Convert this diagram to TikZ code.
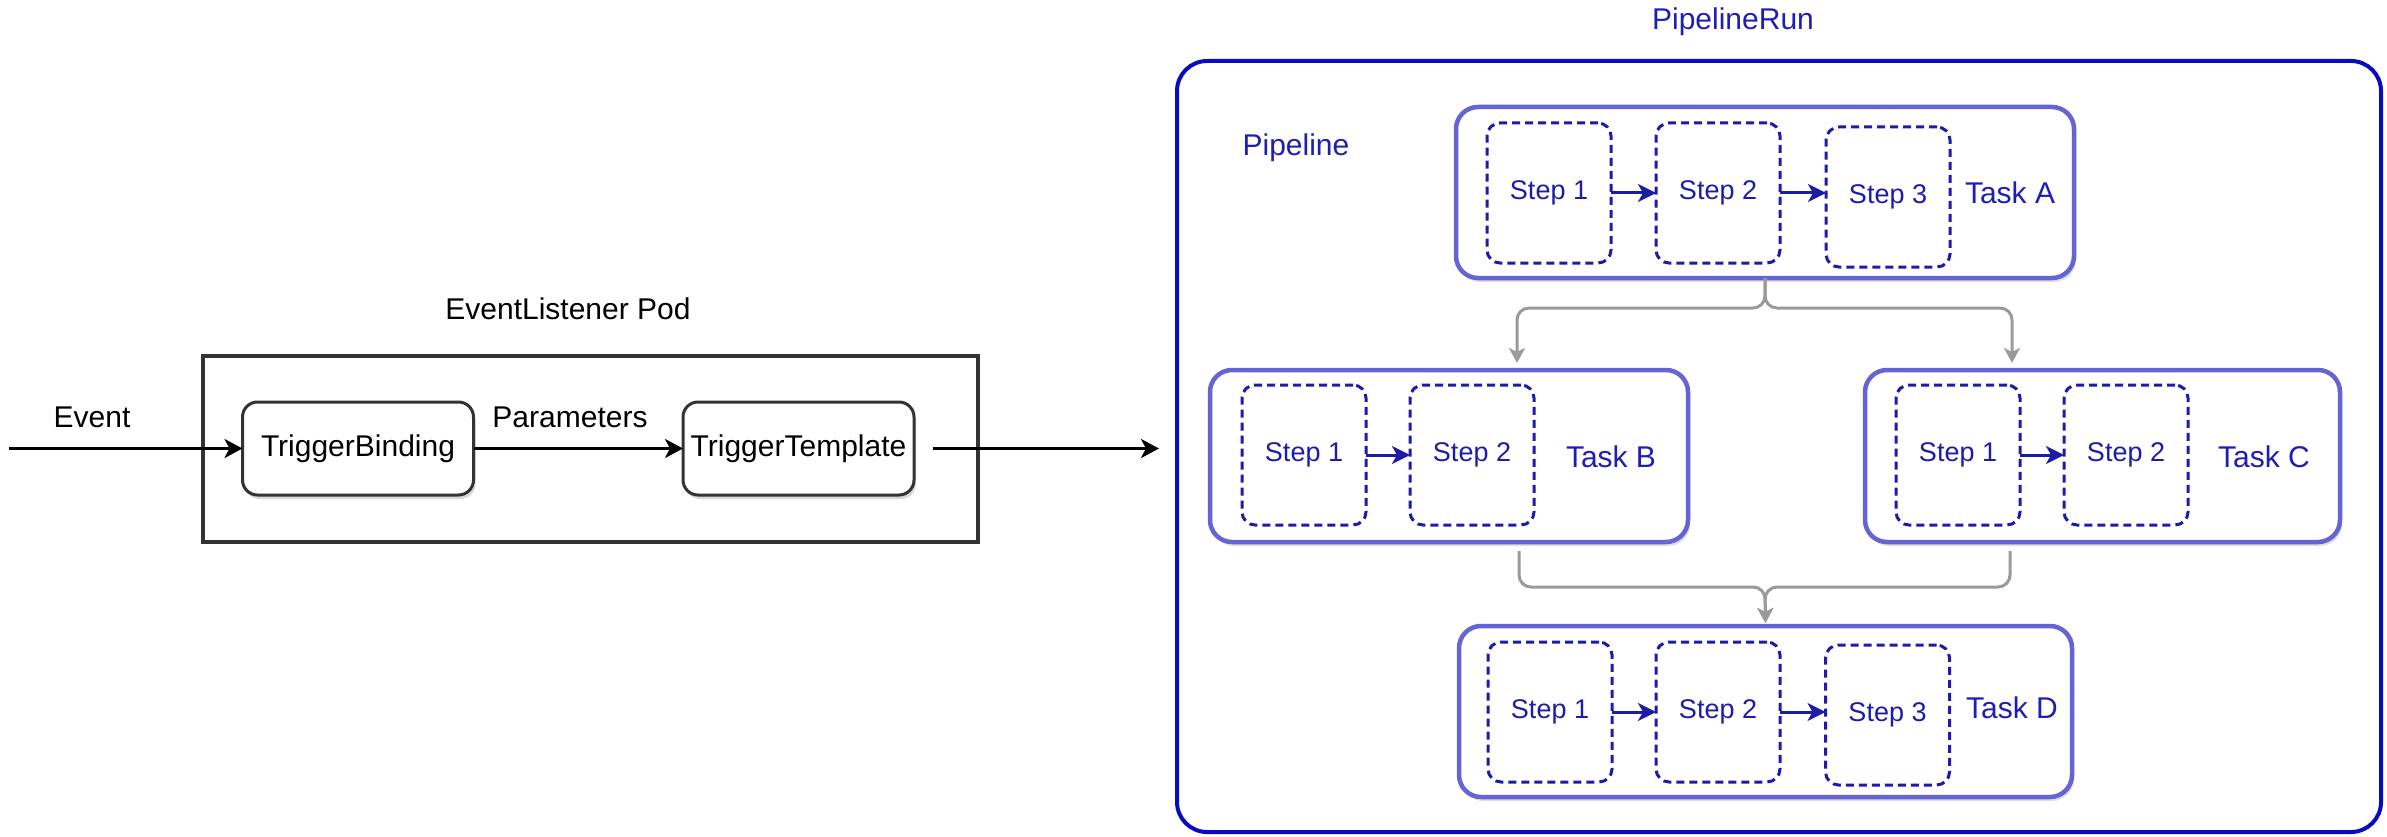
\documentclass[tikz,border=0pt]{standalone}
\usepackage{fontspec}
\setmainfont{Liberation Sans}
\usetikzlibrary{arrows.meta,shadows}

\definecolor{darkline}{HTML}{333333}
\definecolor{runblue}{HTML}{0A0AC0}
\definecolor{taskline}{HTML}{6464D4}
\definecolor{stepblue}{HTML}{1C1CA8}
\definecolor{textblue}{HTML}{1E1EB4}
\definecolor{flowgray}{HTML}{9A9A9A}

\tikzset{
  lbl/.style={font=\fontsize{30}{36}\selectfont, inner sep=0pt},
  bluelbl/.style={lbl, text=textblue},
  steplbl/.style={font=\fontsize{27}{32}\selectfont, text=stepblue},
  trigbox/.style={draw=darkline, line width=3pt, rounded corners=15pt, fill=white,
    minimum width=231pt, minimum height=93pt, inner sep=0pt, outer sep=0pt,
    lbl, drop shadow={shadow xshift=2pt, shadow yshift=-4pt, fill=black!30}},
  taskbox/.style={draw=taskline, line width=4.5pt, rounded corners=22pt, fill=white,
    minimum height=171pt, inner sep=0pt, outer sep=0pt,
    drop shadow={shadow xshift=2pt, shadow yshift=-4pt, fill=black!25}},
  stepbox/.style={draw=stepblue, line width=3pt, dash pattern=on 8pt off 5pt,
    rounded corners=13pt, minimum width=124pt, minimum height=140pt,
    inner sep=0pt, outer sep=0pt, steplbl},
  blackarrow/.style={draw=black, line width=3pt,
    -{Stealth[length=18pt, width=19pt, inset=5pt]}},
  bluearrow/.style={draw=stepblue, line width=3pt,
    -{Stealth[length=18pt, width=18pt, inset=5pt]}},
  grayarrow/.style={draw=flowgray, line width=3pt, rounded corners=12pt,
    -{Stealth[length=15pt, width=16pt, inset=4pt]}},
}

\begin{document}
\begin{tikzpicture}[x=1pt, y=-1pt]
\useasboundingbox (0,0) rectangle (2387,837);

% ---------------- EventListener pod ----------------
\node[lbl] (elpodlbl) at (568,309) {EventListener Pod};
\node[draw=darkline, line width=4pt, minimum width=775pt, minimum height=186pt,
      inner sep=0pt, outer sep=0pt] (elpod) at (590.5,449) {};
\node[trigbox] (tb) at (358,448.5) {TriggerBinding};
\node[trigbox] (tt) at (798.5,448.5) {TriggerTemplate};
\node[lbl] (eventlbl) at (92,417) {Event};
\node[lbl] (paramlbl) at (570,417) {Parameters};

\coordinate (evin) at (9,448.5);
\coordinate (runin) at (1159,448.5);
\draw[blackarrow] (evin) -- (tb.west);
\draw[blackarrow] (tb.east) -- (tt.west);
\draw[blackarrow, shorten <=19pt] (tt.east) -- (runin);

% ---------------- PipelineRun ----------------
\node[bluelbl] (runlbl) at (1733,22) {PipelineRun};
\node[draw=runblue, line width=4pt, rounded corners=30pt, minimum width=1204pt,
      minimum height=771pt, inner sep=0pt, outer sep=0pt] (run) at (1779,446.5) {};
\node[bluelbl] (pipelbl) at (1296,148) {Pipeline};

% Task A
\node[taskbox, minimum width=618pt] (taskA) at (1765,192.5) {};
\node[stepbox] (a1) at (1549,193) {Step 1};
\node[stepbox] (a2) at (1718,193) {Step 2};
\node[stepbox] (a3) at (1888,197) {Step 3};
\node[bluelbl] (alabel) at (2010,193) {Task A};
\draw[bluearrow] (a1.east) -- (a2.west |- a1.east);
\draw[bluearrow] (a2.east) -- (a3.west |- a2.east);

% Task B
\node[taskbox, minimum width=478pt, minimum height=172pt] (taskB) at (1449,456) {};
\node[stepbox] (b1) at (1304,455) {Step 1};
\node[stepbox] (b2) at (1472,455) {Step 2};
\node[bluelbl] (blabel) at (1611,457) {Task B};
\draw[bluearrow] (b1.east) -- (b2.west);

% Task C
\node[taskbox, minimum width=475pt, minimum height=172pt] (taskC) at (2102.5,456) {};
\node[stepbox] (c1) at (1958,455) {Step 1};
\node[stepbox] (c2) at (2126,455) {Step 2};
\node[bluelbl] (clabel) at (2264,457) {Task C};
\draw[bluearrow] (c1.east) -- (c2.west);

% Task D
\node[taskbox, minimum width=613pt] (taskD) at (1765.5,711.5) {};
\node[stepbox] (d1) at (1550,712) {Step 1};
\node[stepbox] (d2) at (1718,712) {Step 2};
\node[stepbox] (d3) at (1887.5,715) {Step 3};
\node[bluelbl] (dlabel) at (2012,708) {Task D};
\draw[bluearrow] (d1.east) -- (d2.west |- d1.east);
\draw[bluearrow] (d2.east) -- (d3.west |- d2.east);

% ---------------- task flow ----------------
\coordinate (split) at (1765,308);
\coordinate (bin) at (1517,370);
\coordinate (cin) at (2012,370);
\draw[grayarrow, shorten >=7pt] (taskA.south) -- (split) -| (bin);
\draw[grayarrow, shorten >=7pt] (taskA.south) -- (split) -| (cin);

\coordinate (bout) at (1519,542);
\coordinate (cout) at (2010,542);
\coordinate (merge) at (1765,587);
\draw[grayarrow, shorten <=9pt, shorten >=3pt] (bout) |- (merge) -- (taskD.north);
\draw[grayarrow, shorten <=9pt, shorten >=3pt] (cout) |- (merge) -- (taskD.north);
\end{tikzpicture}
\end{document}
